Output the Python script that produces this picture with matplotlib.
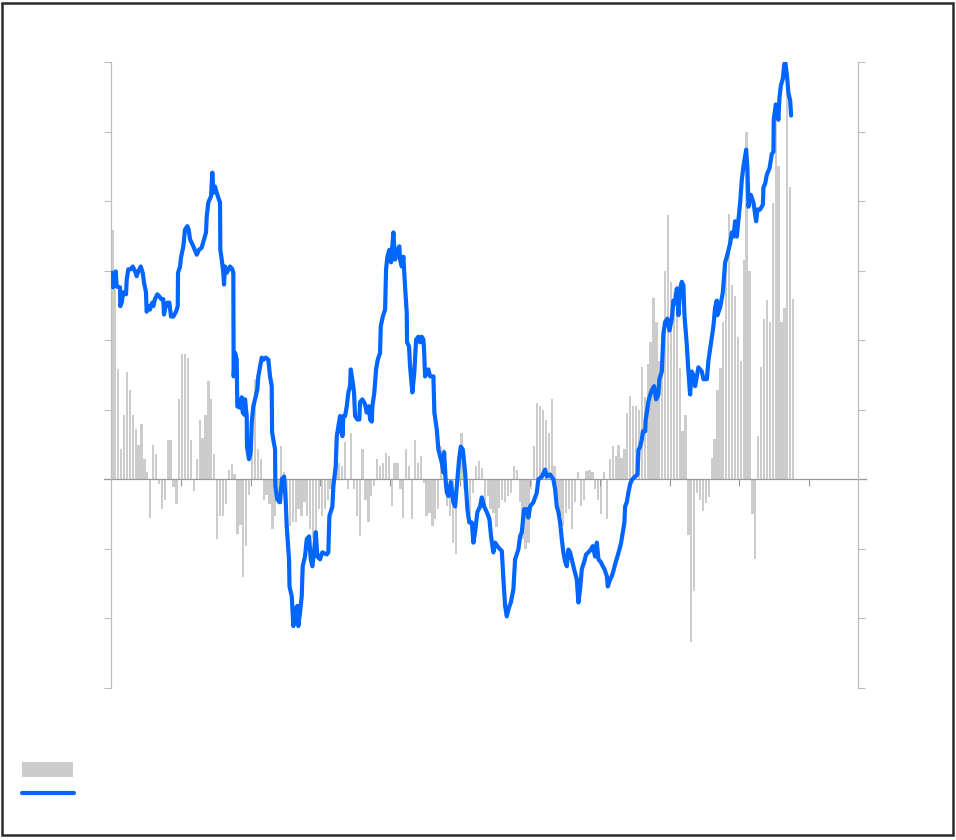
import matplotlib
matplotlib.use('Agg')
import matplotlib.pyplot as plt
import numpy as np
from matplotlib.patches import Rectangle
from matplotlib.lines import Line2D

# ---- data (x in years from start, y in axis units) ----
bar_values = [
    35.9, 27.3, 15.8, 4.3, 9.3, 15.5, 12.9, 9.3, 7.2, 5.0,
    7.9, 2.9, 1.1, -5.5, 5.0, 3.6, -0.7, -4.3, -2.9, 5.7,
    5.7, -1.1, -3.6, 11.5, 18.0, 18.0, 17.5, 5.7, -1.7, 2.9,
    8.6, 6.0, 9.3, 14.1, 11.5, 3.6, -8.6, -5.2, -5.3, -3.6,
    1.4, 2.2, 0.7, -7.9, -6.5, -14.0, -9.6, -2.2, 8.6, 14.4,
    4.3, 2.9, -2.9, -2.2, -3.6, -7.2, -5.2, -3.6, 4.8, 1.0,
    -6.7, -6.7, -6.2, -6.2, -4.3, -5.3, -3.3, -5.3, -7.2, -8.6,
    -7.7, -4.3, -5.3, -4.3, -2.9, -1.4, -1.0, 4.3, 2.4, 1.9,
    5.3, -1.4, 6.7, -1.4, -5.3, -8.1, 4.3, -2.9, -6.2, -2.4,
    -1.0, 2.9, 1.9, 2.4, 3.8, 3.3, -3.8, 2.4, 2.4, -1.4,
    -5.5, 4.3, 1.9, -5.7, 5.7, 2.4, 3.3, -0.5, -5.3, -4.8,
    -6.7, -5.7, -4.3, 4.8, 4.3, -3.8, -5.3, -9.1, -10.8, 3.3,
    6.7, -1.4, -5.7, -5.0, -2.0, 1.9, 2.6, 1.7, -3.8, -2.4,
    -4.3, -4.8, -6.9, -4.1, -2.9, -3.3, -2.4, -1.9, 1.9, 1.4,
    -3.3, -8.6, -10.0, -9.1, -1.4, 4.8, 11.0, 10.5, 10.0, 8.6,
    6.7, 11.5, 1.9, -2.9, -5.3, -6.7, -4.8, -4.3, -7.2, -3.3,
    1.0, -3.8, -2.9, 1.2, 1.4, 1.0, -1.4, -2.9, -5.0, 1.0,
    -5.7, 2.9, 4.8, 3.3, 5.0, 3.0, 4.3, 9.6, 12.0, 10.5,
    10.5, 10.0, 16.1, 11.8, 16.6, 19.8, 26.0, 22.6, 17.0, 17.1,
    30.0, 38.0, 28.4, 27.0, 27.9, 16.0, 7.0, 9.3, -8.0, -23.4,
    -16.0, -2.0, -3.0, -4.5, -3.4, -2.5, 3.0, 5.8, 12.8, 16.0,
    22.6, 32.3, 38.2, 28.0, 26.3, 20.4, 17.0, 31.5, 50.0, 30.0,
    -5.0, -11.5, 6.3, 16.1, 23.0, 25.8, 22.6, 39.8, 52.0, 45.0,
    22.6, 24.7, 58.0, 42.0, 25.9,
]

line_t = [
    0.019, 0.029, 0.067, 0.082, 0.129, 0.133, 0.153, 0.176, 0.215, 0.225,
    0.248, 0.282, 0.311, 0.330, 0.354, 0.368, 0.391, 0.426, 0.454, 0.473,
    0.501, 0.511, 0.534, 0.559, 0.569, 0.592, 0.606, 0.630, 0.663, 0.692,
    0.721, 0.749, 0.759, 0.784, 0.807, 0.835, 0.860, 0.893, 0.931, 0.956,
    0.960, 0.989, 1.003, 1.036, 1.060, 1.093, 1.113, 1.132, 1.179, 1.228,
    1.261, 1.299, 1.322, 1.361, 1.371, 1.394, 1.433, 1.451, 1.466, 1.490,
    1.514, 1.547, 1.562, 1.566, 1.586, 1.609, 1.619, 1.633, 1.658, 1.705,
    1.738, 1.752, 1.757, 1.777, 1.801, 1.809, 1.848, 1.873, 1.887, 1.910,
    1.920, 1.944, 1.948, 1.977, 2.001, 2.016, 2.039, 2.063, 2.096, 2.110,
    2.135, 2.159, 2.182, 2.216, 2.254, 2.278, 2.302, 2.307, 2.325, 2.350,
    2.354, 2.383, 2.421, 2.446, 2.479, 2.503, 2.517, 2.550, 2.557, 2.589,
    2.612, 2.636, 2.669, 2.683, 2.708, 2.732, 2.746, 2.779, 2.804, 2.837,
    2.861, 2.884, 2.908, 2.933, 2.956, 2.994, 3.027, 3.090, 3.113, 3.128,
    3.171, 3.185, 3.219, 3.234, 3.257, 3.281, 3.295, 3.310, 3.314, 3.328,
    3.353, 3.377, 3.400, 3.424, 3.434, 3.463, 3.481, 3.496, 3.529, 3.557,
    3.567, 3.600, 3.639, 3.663, 3.696, 3.711, 3.735, 3.744, 3.772, 3.797,
    3.821, 3.854, 3.864, 3.893, 3.926, 3.940, 3.959, 3.987, 4.012, 4.045,
    4.069, 4.093, 4.130, 4.140, 4.165, 4.188, 4.212, 4.236, 4.241, 4.269,
    4.284, 4.317, 4.345, 4.370, 4.403, 4.427, 4.451, 4.474, 4.484, 4.499,
    4.523, 4.546, 4.570, 4.618, 4.632, 4.666, 4.689, 4.738, 4.761, 4.771,
    4.795, 4.810, 4.833, 4.867, 4.904, 4.929, 4.953, 4.986, 5.010, 5.039,
    5.072, 5.105, 5.133, 5.168, 5.191, 5.215, 5.248, 5.287, 5.311, 5.344,
    5.383, 5.420, 5.444, 5.477, 5.502, 5.549, 5.598, 5.621, 5.645, 5.669,
    5.692, 5.727, 5.764, 5.788, 5.835, 5.860, 5.884, 5.917, 5.956, 5.979,
    6.003, 6.050, 6.099, 6.122, 6.171, 6.218, 6.242, 6.289, 6.337, 6.361,
    6.386, 6.409, 6.433, 6.457, 6.480, 6.504, 6.529, 6.552, 6.576, 6.600,
    6.633, 6.672, 6.695, 6.719, 6.744, 6.777, 6.805, 6.838, 6.873, 6.901,
    6.934, 6.959, 6.982, 7.016, 7.045, 7.068, 7.102, 7.116, 7.149, 7.174,
    7.196, 7.221, 7.254, 7.282, 7.307, 7.331, 7.354, 7.364, 7.388, 7.411,
    7.436, 7.460, 7.507, 7.541, 7.555, 7.579, 7.603, 7.618, 7.651, 7.658,
    7.675, 7.698, 7.712, 7.746, 7.779, 7.808, 7.841, 7.855, 7.890, 7.913,
    7.937, 7.970, 7.999, 8.033, 8.056, 8.080, 8.105, 8.128, 8.152, 8.176,
    8.199, 8.214, 8.248, 8.271, 8.295, 8.320, 8.343, 8.367, 8.414, 8.463,
    8.486, 8.535, 8.558, 8.606, 8.629, 8.653, 8.678, 8.686, 8.725, 8.764,
    8.797, 8.821, 8.868, 8.893, 8.916, 8.940, 8.964, 9.012, 9.036, 9.059,
    9.098, 9.116, 9.131, 9.165, 9.202, 9.241, 9.260, 9.298, 9.337, 9.346,
    9.370, 9.394, 9.432, 9.466, 9.489, 9.493, 9.523, 9.537, 9.560, 9.575,
    9.595, 9.623, 9.642, 9.657, 9.681, 9.704, 9.728, 9.742,
]

line_v = [
    29.7, 27.6, 29.9, 27.7, 27.6, 24.9, 25.4, 26.9, 26.6, 28.7,
    30.2, 30.2, 30.6, 30.2, 29.7, 29.2, 29.9, 30.6, 29.7, 28.3,
    26.9, 24.1, 24.9, 24.4, 24.9, 25.4, 24.9, 25.9, 26.6, 26.3,
    25.9, 25.9, 23.7, 24.9, 25.4, 25.4, 23.4, 23.4, 24.1, 24.9,
    29.7, 30.6, 31.9, 33.5, 35.9, 36.4, 35.9, 34.5, 33.5, 32.3,
    33.0, 33.3, 34.1, 35.5, 37.8, 39.8, 40.7, 44.1, 41.2, 42.1,
    41.2, 40.2, 39.8, 33.0, 31.6, 29.7, 28.0, 30.6, 29.7, 30.6,
    30.2, 29.7, 14.8, 18.2, 17.2, 10.5, 10.3, 11.8, 9.6, 9.3,
    11.5, 9.1, 4.7, 2.9, 3.9, 8.2, 10.5, 11.5, 12.9, 14.8,
    16.2, 17.5, 17.2, 17.5, 17.2, 14.8, 13.4, 6.8, 5.7, 4.3,
    -1.0, -2.9, -3.3, 0.0, 0.4, -3.3, -6.8, -11.5, -15.4, -16.8,
    -21.1, -18.7, -18.2, -21.1, -19.1, -16.8, -12.5, -11.1, -8.6, -8.2,
    -11.5, -12.5, -10.5, -7.6, -11.1, -11.5, -10.5, -10.8, -10.5, -5.3,
    -3.9, -1.0, 1.9, 6.2, 7.6, 9.1, 6.8, 8.6, 6.2, 9.1,
    9.1, 10.5, 12.5, 13.4, 15.8, 13.9, 12.5, 9.1, 8.6, 8.6,
    11.1, 11.5, 10.8, 9.6, 10.5, 8.6, 8.3, 10.5, 12.5, 15.8,
    17.2, 18.2, 22.0, 23.4, 24.4, 30.2, 32.0, 33.0, 31.2, 35.5,
    31.6, 32.6, 33.5, 31.6, 30.6, 32.0, 27.7, 24.0, 19.7, 19.1,
    16.2, 12.5, 15.4, 20.1, 20.5, 19.7, 20.5, 20.1, 18.7, 14.8,
    15.4, 15.8, 14.8, 14.8, 9.6, 7.2, 4.3, 2.4, 1.0, 3.9,
    -0.4, -1.9, -2.4, -0.4, -3.3, -3.9, -1.0, 2.9, 4.7, 4.3,
    1.0, -4.3, -6.2, -6.2, -9.1, -7.6, -4.7, -3.9, -2.6, -3.9,
    -4.7, -5.7, -8.2, -10.5, -9.1, -9.8, -10.3, -14.4, -18.2, -19.7,
    -18.7, -17.7, -15.8, -11.5, -10.1, -8.2, -7.6, -4.3, -4.3, -5.5,
    -3.9, -3.3, -1.9, 0.0, 0.4, 1.4, 0.4, 0.7, 0.0, -1.4,
    -3.9, -4.7, -6.2, -8.6, -10.5, -11.8, -12.5, -10.1, -10.5, -11.5,
    -12.9, -14.4, -17.7, -15.8, -12.9, -11.9, -10.8, -10.5, -10.1, -9.6,
    -11.1, -9.1, -11.5, -11.9, -12.5, -12.9, -13.9, -15.4, -14.4, -13.9,
    -13.2, -12.2, -11.1, -10.1, -9.1, -7.6, -6.2, -3.9, -3.3, -1.9,
    -0.7, -0.1, 0.4, 0.7, 4.2, 4.7, 5.7, 6.9, 6.9, 8.5,
    9.6, 11.2, 11.8, 12.8, 13.4, 11.5, 12.2, 14.4, 15.5, 21.0,
    22.6, 23.1, 21.4, 23.1, 25.7, 25.3, 27.4, 23.6, 27.4, 28.4,
    27.9, 23.6, 19.3, 15.5, 12.2, 15.5, 14.9, 13.4, 16.1, 15.5,
    14.4, 14.4, 17.1, 20.4, 22.0, 24.7, 25.7, 23.6, 24.7, 26.9,
    31.2, 32.0, 33.9, 35.5, 34.9, 37.1, 34.9, 39.8, 43.1, 45.0,
    47.4, 44.7, 39.2, 40.9, 39.8, 37.1, 38.8, 38.8, 39.5, 42.0,
    42.5, 43.8, 44.7, 46.8, 47.1, 51.7, 53.9, 53.0, 51.7, 54.9,
    56.6, 57.6, 59.5, 60.1, 58.2, 55.5, 54.5, 52.3,
]

bar_periods_per_year = 24
year_ticks = list(range(1, 11))
value_ticks = list(range(-30, 61, 10))
x_limits = (0, 10.70)
y_limits = (-30, 60)

# ---- figure ----
W, H = 956, 840
fig = plt.figure(figsize=(W / 100, H / 100), dpi=100)
fig.patch.set_facecolor('white')

ax_left, ax_right, ax_top, ax_bottom = 111, 858, 62, 688
ax = fig.add_axes([ax_left / W, 1 - ax_bottom / H,
                   (ax_right - ax_left) / W, (ax_bottom - ax_top) / H])
ax.set_facecolor('none')

bar_x = (np.arange(len(bar_values)) + 0.5) / bar_periods_per_year
ax.bar(bar_x, bar_values, width=0.78 / bar_periods_per_year,
       color='#cccccc', linewidth=0, zorder=1)

ax.plot(line_t, line_v, color='#0066ff', lw=3.0,
        solid_joinstyle='round', solid_capstyle='round', zorder=3)

ax.set_xlim(*x_limits)
ax.set_ylim(*y_limits)

axw = ax_right - ax_left
ax.axhline(0, xmin=-7 / axw, xmax=1 + 8 / axw, color='#999999',
           lw=0.9, clip_on=False, zorder=2)

ax.spines['top'].set_visible(False)
ax.spines['bottom'].set_position(('data', 0))
ax.spines['bottom'].set_color('none')
for s in ('left', 'right'):
    ax.spines[s].set_color('#bdbdbd')
    ax.spines[s].set_linewidth(0.9)

ax.set_xticks(year_ticks)
ax.set_yticks(value_ticks)
ax.tick_params(axis='x', direction='out', length=5, width=0.8,
               color='#999999', labelbottom=False)
ax.tick_params(axis='y', direction='out', length=5, width=0.8,
               color='#bdbdbd', left=True, right=True,
               labelleft=False, labelright=False)

# ---- legend swatches (no text in the reference) ----
fig.patches.append(Rectangle((22 / W, 1 - 777 / H), 51 / W, 15 / H,
                             transform=fig.transFigure, facecolor='#cccccc',
                             edgecolor='none'))
fig.lines.append(Line2D([22 / W, 74 / W], [1 - 793 / H, 1 - 793 / H],
                        transform=fig.transFigure, color='#0066ff', lw=3.0,
                        solid_capstyle='round'))

# ---- outer frame ----
fig.patches.append(Rectangle((2 / W, 1 - 835 / H), 951 / W, 832 / H,
                             transform=fig.transFigure, fill=False,
                             edgecolor='#2a2a2a', lw=1.8))

fig.savefig('out.png', dpi=100, facecolor='white')
